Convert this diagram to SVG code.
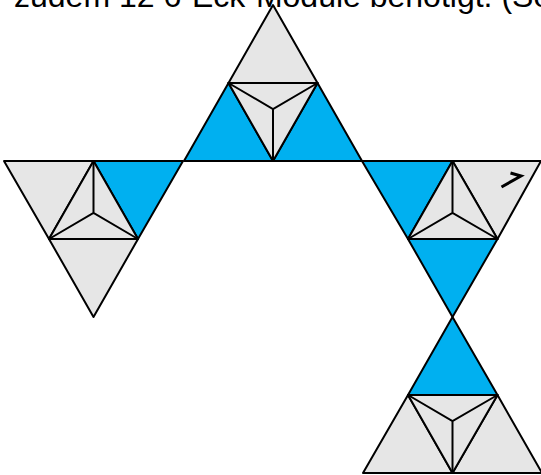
<svg xmlns="http://www.w3.org/2000/svg" width="541" height="475" viewBox="0 0 541 475">
<style>
.g{fill:#e6e6e6;stroke:#000;stroke-width:2;stroke-linejoin:round}
.b{fill:#00b0f0;stroke:#000;stroke-width:2;stroke-linejoin:round}
.l{fill:none;stroke:#000;stroke-width:2;stroke-linecap:round}
text{font-family:"Liberation Sans",Arial,sans-serif;font-size:32px;fill:#000}
</style>
<rect width="541" height="475" fill="#fff"/>
<text x="14" y="7">zudem 12 6-Eck-Module benötigt. (Se</text>
<g id="module-top">
<path class="g" d="M273 5L317.500 83H228.500Z"/>
<path class="b" d="M228.500 83L273 161H184Z"/>
<path class="b" d="M317.500 83L362 161H273Z"/>
<path class="g" d="M228.500 83H317.500L273 161Z"/>
<path class="l" d="M228.500 83L273 109L317.500 83M273 109V161"/>
</g>
<g id="module-left">
<path class="g" d="M4 161H93.500L49 239Z"/>
<path class="b" d="M93.500 161H183L138 239Z"/>
<path class="g" d="M49 239H138L93.500 317Z"/>
<path class="g" d="M93.500 161L138 239H49Z"/>
<path class="l" d="M49 239L93.500 213L138 239M93.500 213V161"/>
</g>
<g id="module-right">
<path class="b" d="M362 161H452.500L408 239Z"/>
<path class="g" d="M452.500 161H541L497.500 239Z"/>
<path class="b" d="M408 239H497.500L452.500 317Z"/>
<path class="g" d="M452.500 161L497.500 239H408Z"/>
<path class="l" d="M408 239L452.500 213L497.500 239M452.500 213V161"/>
<path d="M501.500 187L521 176L510.500 173" fill="none" stroke="#000" stroke-width="3"/>
</g>
<g id="module-bottom">
<path class="b" d="M452.500 317L497.500 395H408Z"/>
<path class="g" d="M408 395L452.500 473H363Z"/>
<path class="g" d="M497.500 395L542 473H452.500Z"/>
<path class="g" d="M408 395H497.500L452.500 473Z"/>
<path class="l" d="M408 395L452.500 421L497.500 395M452.500 421V473"/>
</g>
</svg>
